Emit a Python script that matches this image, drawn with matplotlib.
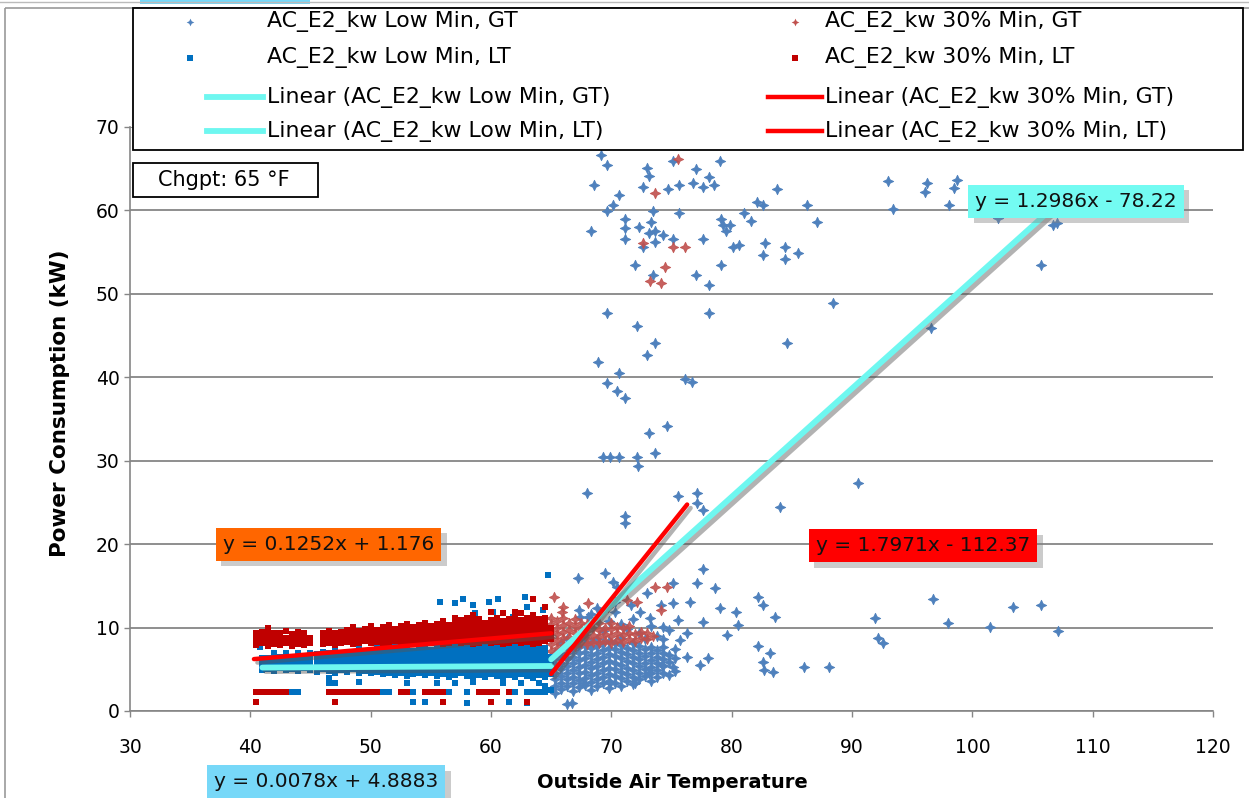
import matplotlib
matplotlib.use("Agg")
import matplotlib.pyplot as plt
import matplotlib.patheffects as pe
from matplotlib.path import Path
from matplotlib.lines import Line2D
from matplotlib.patches import Rectangle
from matplotlib import transforms

# --- data ---
# AC_E2_kw Low Min, GT : scattered points
low_gt_pts = [
    (69.1, 66.6), (69.6, 65.4), (68.6, 63.0), (70.6, 61.8), (70.1, 60.6), (69.6, 59.9), (68.3, 57.5),
    (71.1, 59.0), (71.1, 57.9), (71.1, 56.6), (72.3, 58.0), (73.3, 58.6), (73.5, 59.9), (73.1, 57.3),
    (73.6, 57.5), (73.6, 56.2), (72.6, 55.6), (74.3, 57.1), (75.1, 56.6), (72.0, 53.5), (73.5, 52.3),
    (72.6, 62.8), (73.0, 65.1), (73.1, 64.1), (74.7, 62.6), (75.6, 63.0), (75.1, 65.9), (75.6, 59.7),
    (77.0, 65.0), (76.8, 63.3), (77.6, 62.8), (78.1, 64.0), (78.5, 63.0), (79.0, 65.9), (77.6, 56.6),
    (79.1, 59.0), (79.3, 58.3), (79.9, 58.3), (79.5, 57.5), (81.0, 59.7), (81.6, 58.7), (82.1, 61.0),
    (82.6, 60.6), (83.8, 62.6), (80.1, 55.6), (80.6, 55.9), (82.8, 56.1), (82.6, 54.7), (84.4, 55.6),
    (84.4, 54.2), (85.5, 54.9), (79.1, 53.5), (77.0, 52.3), (78.1, 51.1), (69.6, 47.7), (78.1, 47.7),
    (72.1, 46.2), (93.0, 63.5), (96.2, 63.3), (96.1, 62.2), (98.7, 63.6), (98.5, 62.7), (86.3, 60.6),
    (93.4, 60.2), (98.1, 60.6), (87.1, 58.6), (102.1, 59.1), (106.7, 58.3), (107.0, 58.5), (105.7, 53.5),
    (88.4, 48.9), (96.6, 45.9), (73.6, 44.1), (73.0, 42.7), (68.9, 41.8), (70.6, 40.5), (69.6, 39.3),
    (70.5, 38.4), (71.1, 37.5), (76.1, 39.8), (76.7, 39.4), (74.6, 34.2), (73.1, 33.3), (73.6, 30.9),
    (69.3, 30.4), (69.9, 30.4), (70.6, 30.4), (72.1, 30.4), (72.2, 29.4), (68.0, 26.1), (71.1, 23.4),
    (71.1, 22.5), (75.5, 25.8), (77.1, 26.1), (77.1, 24.9), (77.6, 24.1), (84.0, 24.4), (84.6, 44.1),
    (90.5, 27.3), (96.7, 13.4), (91.9, 11.1), (92.2, 8.7), (92.6, 8.2), (98.0, 10.5), (101.5, 10.1),
    (103.4, 12.5), (105.7, 12.7), (107.1, 9.6), (86.0, 5.3), (88.1, 5.3), (66.3, 0.8),
    (67.2, 15.9), (69.5, 16.5), (70.1, 15.5), (70.5, 14.9), (68.1, 11.3), (73.0, 14.1), (75.1, 15.3),
    (77.1, 15.3), (77.6, 17.0), (78.6, 14.7), (76.5, 13.1), (75.1, 12.9), (74.1, 12.7), (79.0, 12.3),
    (80.4, 11.9), (82.2, 13.7), (82.6, 12.7), (83.6, 11.3), (80.5, 10.3), (79.6, 9.1), (82.2, 7.8),
    (83.2, 7.0), (82.6, 5.9), (78.0, 6.4), (77.4, 5.5), (76.3, 6.5), (75.1, 5.3), (74.2, 5.5),
    (73.1, 4.6), (72.0, 3.4), (69.9, 3.4), (67.7, 3.4), (66.7, 1.0), (75.7, 8.5), (74.3, 7.7),
    (76.3, 9.3), (77.6, 10.7), (75.5, 10.9), (74.3, 10.1), (73.2, 11.2), (72.4, 11.9), (71.6, 12.7),
    (70.3, 13.1), (67.4, 11.3), (83.4, 4.7), (82.7, 4.9),
]
# AC_E2_kw Low Min, GT : dense part, temperature -> list of kW
low_gt_cols = {
    65.3: [2.2, 3.0, 3.8, 4.6, 5.4, 6.2, 7.0],
    65.8: [2.6, 3.4, 4.2, 5.0, 5.8, 6.6, 7.4, 8.2],
    66.3: [3.0, 3.8, 4.6, 5.4, 6.2, 7.0, 7.8, 8.6],
    66.8: [2.4, 3.3, 4.1, 4.9, 5.7, 6.5, 7.3, 8.1],
    67.3: [2.9, 3.7, 4.5, 5.3, 6.1, 6.9, 7.7, 8.5, 12.1],
    67.8: [3.1, 3.9, 4.7, 5.5, 6.3, 7.1, 7.9, 8.7],
    68.3: [2.5, 3.5, 4.3, 5.1, 5.9, 6.7, 7.5, 8.3, 11.6],
    68.8: [3.0, 3.8, 4.6, 5.4, 6.2, 7.0, 7.8, 8.6, 12.4],
    69.3: [3.3, 4.1, 4.9, 5.7, 6.5, 7.3, 8.1, 9.6],
    69.8: [2.7, 3.6, 4.4, 5.2, 6.0, 6.8, 7.6, 8.4, 10.8],
    70.3: [3.4, 4.2, 5.0, 5.8, 6.6, 7.4, 8.2, 11.9],
    70.8: [3.0, 3.9, 4.7, 5.5, 6.3, 7.1, 7.9, 8.7, 10.4],
    71.3: [3.6, 4.4, 5.2, 6.0, 6.8, 7.6, 9.8],
    71.8: [3.2, 4.1, 4.9, 5.7, 6.5, 7.3, 8.1, 11.0],
    72.3: [3.8, 4.6, 5.4, 6.2, 7.0, 7.8, 9.4],
    72.8: [4.2, 5.0, 5.8, 6.6, 7.4, 8.6],
    73.3: [3.6, 4.5, 5.3, 6.1, 6.9, 7.7, 10.2],
    73.8: [4.1, 4.9, 5.7, 6.5, 7.3, 9.0],
    74.3: [4.6, 5.4, 6.2, 7.0, 8.6],
    74.8: [4.3, 5.9, 6.7, 9.7],
    75.3: [4.8, 6.3, 7.4],
}

# AC_E2_kw 30% Min, GT
pct_gt_pts = [
    (75.5, 66.2), (73.6, 62.1), (72.6, 56.1), (75.1, 55.6), (76.1, 55.6), (74.5, 53.2), (73.2, 51.5),
    (74.1, 51.3), (65.2, 13.7), (66.0, 12.5), (65.9, 11.9), (68.1, 12.9), (69.7, 12.5), (71.3, 13.3),
    (72.1, 13.1), (73.6, 14.9), (74.6, 14.9), (74.1, 12.1),
]
pct_gt_cols = {
    65.0: [7.2, 8.0, 8.8, 9.6, 10.4, 11.2],
    65.5: [7.6, 8.4, 9.2, 10.0, 10.8],
    66.0: [7.9, 8.7, 9.5, 10.3, 11.1],
    66.5: [8.1, 8.9, 9.7, 10.5],
    67.0: [7.8, 8.6, 9.4, 10.2, 11.0],
    67.5: [8.2, 9.0, 9.8, 10.6],
    68.0: [8.0, 8.8, 9.6, 10.4],
    68.5: [8.3, 9.1, 9.9, 10.7],
    69.0: [8.1, 8.9, 9.7, 10.5],
    69.5: [8.4, 9.2, 10.0],
    70.0: [8.2, 9.0, 9.8, 10.6],
    70.5: [8.5, 9.3, 10.1],
    71.0: [8.3, 9.1, 9.9],
    71.5: [8.6, 9.4, 10.2],
    72.0: [8.4, 9.2],
    72.5: [8.7, 9.5],
    73.0: [8.6, 9.3],
    73.5: [9.0],
}

# AC_E2_kw Low Min, LT
low_lt_cols = {
    40.8: [7.7],
    41.0: [4.9, 5.6, 6.3],
    41.5: [5.0, 5.7, 6.4, 2.3],
    42.0: [4.8, 5.5, 6.2, 6.9],
    42.5: [5.1, 5.8, 6.5],
    43.0: [4.9, 5.6, 6.3, 7.0],
    43.5: [5.0, 5.7, 6.4, 2.3],
    44.0: [4.8, 5.5, 6.2, 6.9, 2.3],
    44.5: [5.1, 5.8, 6.5],
    45.0: [4.9, 5.6, 6.3, 7.0],
    45.5: [4.7, 5.4, 6.1, 6.8],
    46.0: [5.0, 5.7, 6.4, 7.1],
    46.5: [4.8, 5.5, 6.2, 6.9, 3.9, 3.3],
    47.0: [4.6, 5.3, 6.0, 6.7, 7.4, 3.3],
    47.5: [4.9, 5.6, 6.3, 7.0],
    48.0: [4.7, 5.4, 6.1, 6.8],
    48.5: [5.0, 5.7, 6.4, 7.1],
    49.0: [4.6, 5.3, 6.0, 6.7, 7.4, 3.5],
    49.5: [4.8, 5.5, 6.2, 6.9],
    50.0: [4.5, 5.2, 5.9, 6.6, 7.3, 2.3],
    50.5: [4.7, 5.4, 6.1, 6.8, 7.5],
    51.0: [4.4, 5.1, 5.8, 6.5, 7.2, 2.3],
    51.5: [4.6, 5.3, 6.0, 6.7, 7.4, 2.3],
    52.0: [4.3, 5.0, 5.7, 6.4, 7.1, 7.8],
    52.5: [4.5, 5.2, 5.9, 6.6, 7.3],
    53.0: [4.2, 4.9, 5.6, 6.3, 7.0, 7.7, 3.4],
    53.5: [4.4, 5.1, 5.8, 6.5, 7.2, 1.1, 2.3],
    54.0: [4.6, 5.3, 6.0, 6.7, 7.4, 8.1],
    54.5: [4.3, 5.0, 5.7, 6.4, 7.1, 7.8, 1.1],
    55.0: [4.5, 5.2, 5.9, 6.6, 7.3, 2.3],
    55.5: [4.2, 4.9, 5.6, 6.3, 7.0, 7.7, 3.3],
    55.8: [13.1],
    56.0: [4.4, 5.1, 5.8, 6.5, 7.2, 7.9],
    56.5: [4.1, 4.8, 5.5, 6.2, 6.9, 7.6, 2.3],
    57.0: [4.3, 5.0, 5.7, 6.4, 7.1, 7.8, 3.3, 12.9],
    57.5: [4.5, 5.2, 5.9, 6.6, 7.3, 8.0],
    57.7: [13.4],
    58.0: [4.2, 4.9, 5.6, 6.3, 7.0, 7.7, 1.0, 2.3],
    58.5: [4.0, 4.7, 5.4, 6.1, 6.8, 7.5, 8.2, 3.5, 12.7],
    58.7: [11.7],
    59.0: [4.3, 5.0, 5.7, 6.4, 7.1, 7.8],
    59.5: [4.1, 4.8, 5.5, 6.2, 6.9, 7.6, 8.3, 2.3],
    59.8: [13.1],
    60.0: [4.4, 5.1, 5.8, 6.5, 7.2, 7.9],
    60.2: [11.9],
    60.5: [4.2, 4.9, 5.6, 6.3, 7.0, 7.7, 2.3],
    60.6: [13.4],
    61.0: [4.0, 4.7, 5.4, 6.1, 6.8, 7.5, 8.2, 3.4],
    61.5: [4.3, 5.0, 5.7, 6.4, 7.1, 7.8, 1.1],
    61.8: [11.3],
    62.0: [4.1, 4.8, 5.5, 6.2, 6.9, 7.6, 8.3, 2.3],
    62.5: [4.4, 5.1, 5.8, 6.5, 7.2, 7.9, 3.3],
    62.8: [13.7],
    63.0: [4.2, 4.9, 5.6, 6.3, 7.0, 7.7, 1.0, 2.3, 12.5],
    63.5: [4.0, 4.7, 5.4, 6.1, 6.8, 7.5, 8.2, 2.3],
    64.0: [4.3, 5.0, 5.7, 6.4, 7.1, 7.8, 3.3, 2.3],
    64.3: [12.1],
    64.5: [4.1, 4.8, 5.5, 6.2, 6.9, 7.6, 3.0, 2.3],
    64.7: [16.3],
    65.0: [4.4, 5.1, 5.8, 6.5, 2.5],
}

# AC_E2_kw 30% Min, LT
pct_lt_cols = {
    40.5: [7.9, 8.6, 9.3, 2.3, 1.1],
    41.0: [8.1, 8.8, 9.5, 2.3],
    41.5: [7.8, 8.5, 9.2, 9.9, 2.3],
    42.0: [8.0, 8.7, 9.4, 2.3],
    42.5: [7.9, 8.6, 9.3, 2.3],
    43.0: [8.1, 8.8, 9.6, 2.3],
    43.5: [7.8, 8.5, 9.2],
    44.0: [8.0, 8.7, 9.5],
    44.5: [7.9, 8.6, 9.3],
    45.0: [8.1, 8.8],
    46.0: [8.0, 8.7, 9.4],
    46.5: [8.2, 8.9, 9.6, 2.3],
    47.0: [7.9, 8.6, 9.3, 1.1, 2.3],
    47.5: [8.1, 8.8, 9.5, 2.3],
    48.0: [8.3, 9.0, 9.7, 2.3],
    48.5: [8.0, 8.7, 9.4, 10.1, 2.3],
    49.0: [8.2, 8.9, 9.6, 2.3],
    49.5: [8.4, 9.1, 9.8, 2.3],
    50.0: [8.1, 8.8, 9.5, 10.2, 2.3],
    50.5: [8.3, 9.0, 9.7, 2.3],
    51.0: [8.0, 8.7, 9.4, 10.1],
    51.5: [8.2, 8.9, 9.6, 10.3],
    52.0: [8.4, 9.1, 9.8],
    52.5: [8.1, 8.8, 9.5, 10.2, 2.3],
    53.0: [8.3, 9.0, 9.7, 10.4, 2.3],
    53.5: [8.0, 8.7, 9.4, 10.1],
    54.0: [8.2, 8.9, 9.6, 10.3],
    54.5: [8.4, 9.1, 9.8, 10.5, 2.3],
    55.0: [8.1, 8.8, 9.5, 10.2, 2.3],
    55.5: [8.3, 9.0, 9.7, 10.4, 2.3],
    56.0: [8.0, 8.7, 9.4, 10.1, 10.8, 1.1, 2.3],
    56.5: [8.2, 8.9, 9.6, 10.3],
    57.0: [8.4, 9.1, 9.8, 10.5, 11.2],
    57.5: [8.1, 8.8, 9.5, 10.2, 10.9],
    58.0: [8.3, 9.0, 9.7, 10.4, 11.1],
    58.5: [8.0, 8.7, 9.4, 10.1, 10.8, 11.5],
    59.0: [8.2, 8.9, 9.6, 10.3, 11.0, 2.3],
    59.5: [8.4, 9.1, 9.8, 10.5, 2.3],
    60.0: [8.1, 8.8, 9.5, 10.2, 10.9, 11.9, 1.1, 2.3],
    60.5: [8.3, 9.0, 9.7, 10.4, 11.1, 2.3],
    61.0: [8.0, 8.7, 9.4, 10.1, 10.8, 11.7],
    61.5: [8.2, 8.9, 9.6, 10.3, 11.0, 2.3],
    62.0: [8.4, 9.1, 9.8, 10.5, 11.2, 11.9],
    62.5: [8.1, 8.8, 9.5, 10.2, 10.9, 11.7],
    63.0: [8.3, 9.0, 9.7, 10.4, 11.1, 1.1],
    63.5: [8.0, 8.7, 9.4, 10.1, 10.8, 11.5, 13.4],
    64.0: [8.2, 8.9, 9.6, 10.3, 11.0],
    64.5: [8.4, 9.1, 9.8, 10.5, 11.2, 12.5],
    65.0: [8.6, 9.3, 10.0],
}

# linear trendlines: (slope, intercept, x from, x to)
trend_low_gt = (1.2986, -78.22, 65.0, 107.0)
trend_low_lt = (0.0078, 4.8883, 41.0, 65.0)
trend_pct_gt = (1.7971, -112.37, 65.0, 76.3)
trend_pct_lt = (0.1252, 1.176, 40.3, 65.0)

x_ticks = [30, 40, 50, 60, 70, 80, 90, 100, 110, 120]
y_ticks = [0, 10, 20, 30, 40, 50, 60, 70]

names = ["AC_E2_kw Low Min, GT", "AC_E2_kw Low Min, LT",
         "Linear (AC_E2_kw Low Min, GT)", "Linear (AC_E2_kw Low Min, LT)",
         "AC_E2_kw 30% Min, GT", "AC_E2_kw 30% Min, LT",
         "Linear (AC_E2_kw 30% Min, GT)", "Linear (AC_E2_kw 30% Min, LT)"]

c_low_gt = "#4F81BD"
c_pct_gt = "#C0504D"
c_low_lt = "#0070C0"
c_pct_lt = "#C00000"
c_cyan = "#6EF7F0"
c_red = "#FF0000"
c_grid = "#868686"


def flat(cols):
    xs = [k for k, ys in cols.items() for _ in ys]
    ys = [v for ys in cols.values() for v in ys]
    return xs, ys


# 4 point star like the excel marker
star = Path([(0, 1), (0.32, 0.32), (1, 0), (0.32, -0.32), (0, -1), (-0.32, -0.32), (-1, 0),
             (-0.32, 0.32), (0, 1)], closed=True)

W, H = 1249, 798
fig = plt.figure(figsize=(W / 100, H / 100), dpi=100)
pix = transforms.Affine2D().scale(1 / W, -1 / H).translate(0, 1) + fig.transFigure

ax = fig.add_axes([130 / W, 1 - 711 / H, 1083 / W, 584 / H])
ax.set_xlim(30, 120)
ax.set_ylim(0, 70)

# scatter series
gx = [p[0] for p in low_gt_pts] + flat(low_gt_cols)[0]
gy = [p[1] for p in low_gt_pts] + flat(low_gt_cols)[1]
ax.plot(gx, gy, ls="none", marker=star, ms=7.5, color=c_low_gt, mec=c_low_gt, mew=0.6, zorder=3)
rx = [p[0] for p in pct_gt_pts] + flat(pct_gt_cols)[0]
ry = [p[1] for p in pct_gt_pts] + flat(pct_gt_cols)[1]
ax.plot(rx, ry, ls="none", marker=star, ms=7.5, color=c_pct_gt, mec=c_pct_gt, mew=0.6, alpha=0.9, zorder=3.1)
lx, ly = flat(low_lt_cols)
ax.plot(lx, ly, ls="none", marker="s", ms=4.3, color=c_low_lt, mew=0, zorder=3.2)
px_, py_ = flat(pct_lt_cols)
ax.plot(px_, py_, ls="none", marker="s", ms=4.3, color=c_pct_lt, mew=0, zorder=3.3)

# trendlines with a soft shadow
shadow = [pe.SimpleLineShadow(offset=(2.5, -2.5), shadow_color="#555555", alpha=0.45), pe.Normal()]
for (m, b, x0, x1), col, lw in [(trend_low_lt, c_cyan, 4.2), (trend_low_gt, c_cyan, 4.2),
                                (trend_pct_lt, c_red, 3.2), (trend_pct_gt, c_red, 3.2)]:
    ax.plot([x0, x1], [m * x0 + b, m * x1 + b], color=col, lw=lw, solid_capstyle="round",
            path_effects=shadow, zorder=5)

# axes look
ax.set_xticks(x_ticks)
ax.set_yticks(y_ticks)
ax.tick_params(direction="out", length=4.5, width=1, color=c_grid, labelsize=13.5)
ax.tick_params(axis="x", pad=15)
ax.tick_params(axis="y", pad=3)
for s in ["top", "right"]:
    ax.spines[s].set_visible(False)
for s in ["left", "bottom"]:
    ax.spines[s].set_color(c_grid)
    ax.spines[s].set_linewidth(1.2)
ax.yaxis.grid(True, color=c_grid, lw=1.3)
ax.set_axisbelow(True)

fig.text(60 / W, 1 - 403 / H, "Power Consumption (kW)", rotation=90, ha="center", va="center",
         fontsize=15.5, fontweight="bold")
fig.text(672 / W, 1 - 783 / H, "Outside Air Temperature", ha="center", va="center",
         fontsize=14, fontweight="bold")


# equation labels, box with a drop shadow
def eq_label(x, y, txt, fc):
    t = ax.text(x, y, txt, ha="center", va="center", fontsize=14.5, color="#111111",
                bbox=dict(boxstyle="square,pad=0.35", fc=fc, ec="none"), zorder=8, clip_on=False)
    t.get_bbox_patch().set_path_effects(
        [pe.withSimplePatchShadow(offset=(4, -4), shadow_rgbFace="#7f7f7f", alpha=0.4)])


eq_label(108.6, 61.1, "y = 1.2986x - 78.22", "#73FBF2")
eq_label(46.5, 20.0, "y = 0.1252x + 1.176", "#FF6600")
eq_label(95.9, 19.8, "y = 1.7971x - 112.37", "#FF0000")
eq_label(46.3, -8.5, "y = 0.0078x + 4.8883", "#77D8F8")

# chart frame and bit of another label cut off at the top
fig.add_artist(Rectangle((5, 8), 1300, 900, transform=pix, fill=False, ec="#9a9a9a", lw=1.2))
fig.add_artist(Line2D([0, W], [2, 2], transform=pix, color="#bbbbbb", lw=1))
fig.add_artist(Rectangle((140, -4), 170, 8, transform=pix, fc="#77D8F8", ec="none"))

# change point box
fig.add_artist(Rectangle((133, 163), 185, 34, transform=pix, fc="white", ec="black", lw=1.3, zorder=9))
fig.text(158 / W, 1 - 180 / H, "Chgpt: 65 \u00b0F", ha="left", va="center", fontsize=15, zorder=10)

# legend drawn by hand (two columns)
fig.add_artist(Rectangle((133, 8), 1110, 142, transform=pix, fc="white", ec="black", lw=1.3, zorder=9))
rows = [22, 58, 97, 131]
cols = [(190, 207, 263, 267), (795, 768, 822, 825)]
styles = [("m", star, c_low_gt, 5.5), ("m", "s", c_low_lt, 4), ("l", None, c_cyan, 4.2), ("l", None, c_cyan, 4.2),
          ("m", star, c_pct_gt, 5.5), ("m", "s", c_pct_lt, 4), ("l", None, c_red, 3.2), ("l", None, c_red, 3.2)]
for i, (name, st) in enumerate(zip(names, styles)):
    mx, l0, l1, tx = cols[i // 4]
    yy = rows[i % 4]
    if st[0] == "m":
        fig.add_artist(Line2D([mx], [yy], transform=pix, ls="none", marker=st[1], ms=st[3],
                              color=st[2], mew=0, zorder=10))
    else:
        fig.add_artist(Line2D([l0, l1], [yy, yy], transform=pix, color=st[2], lw=st[3], zorder=10))
    fig.text(tx / W, 1 - yy / H, name, ha="left", va="center", fontsize=15.8, zorder=11)

fig.savefig("out.png", dpi=100)
